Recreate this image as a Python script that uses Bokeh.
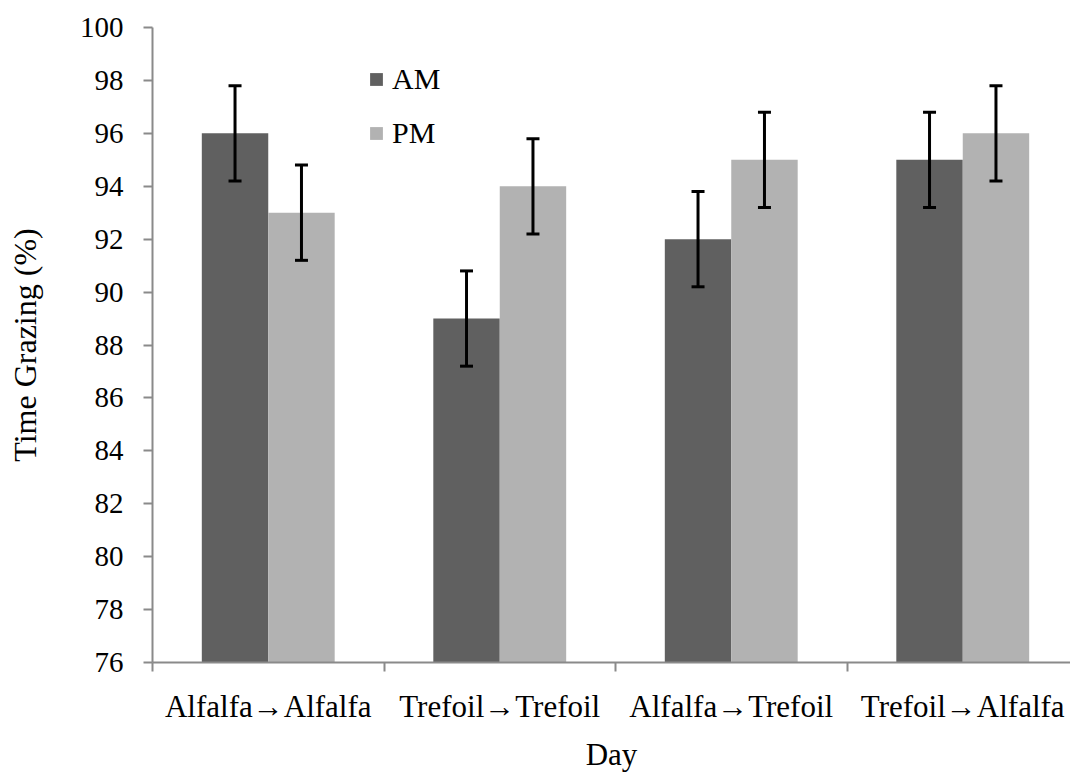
import numpy as np
from bokeh.plotting import figure
from bokeh.models import (ColumnDataSource, FixedTicker, Range1d, Legend, LegendItem,
                          Whisker, TeeHead, CustomJSTickFormatter)
from bokeh.embed import file_html
from bokeh.resources import INLINE

# Grazing time by day and session
days = ["Alfalfa\u2192Alfalfa", "Trefoil\u2192Trefoil", "Alfalfa\u2192Trefoil", "Trefoil\u2192Alfalfa"]
am_values = [96, 89, 92, 95]
pm_values = [93, 94, 95, 96]
am_err = [1.8, 1.8, 1.8, 1.8]
pm_err = [1.8, 1.8, 1.8, 1.8]
y_ticks = list(range(76, 101, 2))

FONT = "Liberation Serif"
AM_COLOR = "#606060"
PM_COLOR = "#b2b2b2"
AXIS_COLOR = "#8a8a8a"

bar_w = 0.287
offset = bar_w / 2
centers = np.arange(len(days)) + 0.5

am_src = ColumnDataSource(dict(
    x=centers - offset, top=am_values,
    upper=np.array(am_values) + np.array(am_err),
    lower=np.array(am_values) - np.array(am_err)))
pm_src = ColumnDataSource(dict(
    x=centers + offset, top=pm_values,
    upper=np.array(pm_values) + np.array(pm_err),
    lower=np.array(pm_values) - np.array(pm_err)))

p = figure(width=1070, height=774, output_backend="svg", toolbar_location=None,
           frame_width=918, frame_height=635,
           x_range=Range1d(0, 918 / 231.5), y_range=Range1d(76, 100))
p.min_border_left = 152
p.min_border_right = 0
p.min_border_top = 27
p.min_border_bottom = 112
p.outline_line_color = None
p.grid.visible = False
p.background_fill_color = "white"
p.border_fill_color = "white"

am_r = p.vbar(x="x", top="top", bottom=76, width=bar_w, source=am_src,
              fill_color=AM_COLOR, line_color=None)
pm_r = p.vbar(x="x", top="top", bottom=76, width=bar_w, source=pm_src,
              fill_color=PM_COLOR, line_color=None)

# error bars drawn on top of the bars
for src in (am_src, pm_src):
    w = Whisker(base="x", upper="upper", lower="lower", source=src,
                level="overlay", line_color="black", line_width=3,
                upper_head=TeeHead(size=13, line_width=3, line_color="black"),
                lower_head=TeeHead(size=13, line_width=3, line_color="black"))
    p.add_layout(w)

# x axis: labels at group centres, tick marks at group boundaries
xa = p.xaxis[0]
xa.ticker = FixedTicker(ticks=list(centers), minor_ticks=[0, 1, 2, 3])
label_map = {f"{c:.1f}": d for c, d in zip(centers, days)}
xa.formatter = CustomJSTickFormatter(args=dict(m=label_map),
                                     code="return m[tick.toFixed(1)] || '';")
xa.major_tick_out = 0
xa.major_tick_in = 0
xa.minor_tick_out = 9
xa.minor_tick_in = 0
xa.minor_tick_line_color = AXIS_COLOR
xa.minor_tick_line_width = 2
xa.axis_line_color = AXIS_COLOR
xa.axis_line_width = 2
xa.major_label_standoff = 17
xa.major_label_text_font_size = "31px"
xa.axis_label = "Day"
xa.axis_label_standoff = 10

ya = p.yaxis[0]
ya.ticker = FixedTicker(ticks=y_ticks, minor_ticks=[])
ya.major_tick_out = 9
ya.major_tick_in = 0
ya.major_tick_line_color = AXIS_COLOR
ya.major_tick_line_width = 2
ya.axis_line_color = AXIS_COLOR
ya.axis_line_width = 2
ya.major_label_standoff = 20
ya.major_label_text_font_size = "29px"
ya.axis_label = "Time Grazing (%)"
ya.axis_label_standoff = 34

for ax in (xa, ya):
    ax.major_label_text_font = FONT
    ax.major_label_text_color = "black"
    ax.axis_label_text_font = FONT
    ax.axis_label_text_font_style = "normal"
    ax.axis_label_text_color = "black"
xa.axis_label_text_font_size = "31px"
ya.axis_label_text_font_size = "32px"

legend = Legend(items=[LegendItem(label="AM", renderers=[am_r]),
                       LegendItem(label="PM", renderers=[pm_r])],
                location=(216, 509), orientation="vertical",
                padding=0, margin=0, spacing=14,
                glyph_width=16, glyph_height=16, label_height=40,
                label_standoff=8,
                label_text_font=FONT, label_text_font_size="30px",
                label_text_color="black",
                border_line_color=None, background_fill_alpha=0)
p.add_layout(legend)

open("out.html", "w").write(file_html(p, INLINE))
